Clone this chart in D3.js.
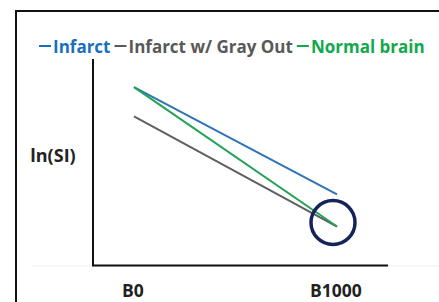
<!DOCTYPE html>
<html>
<head>
<meta charset="utf-8">
<script src="https://cdn.jsdelivr.net/npm/d3@7"></script>
<style>
  body { margin: 0; background: #fff; }
  text { font-family: "Open Sans", Lato, sans-serif; font-weight: 700; }
</style>
</head>
<body>
<div id="chart"></div>
<script>
// Categories on the x axis
const categories = ["B0", "B1000"];

// ln(SI) values (arbitrary units)
const infarct = [8.55, 3.4];
const infarctGray = [7.15, 1.85];
const normalBrain = [8.55, 1.85];

const seriesNames = ["Infarct", "Infarct w/ Gray Out", "Normal brain"];
const seriesColors = ["#2f74b5", "#5f5f5f", "#20a352"];
const legendColors = ["#1a6fc0", "#595959", "#12a84e"];

const width = 439, height = 302;

const svg = d3
  .select("#chart")
  .append("svg")
  .attr("width", width)
  .attr("height", height);

// Outer frame (cut off at right/bottom)
svg.append("rect")
  .attr("x", 16).attr("y", 11)
  .attr("width", 600).attr("height", 400)
  .attr("fill", "none")
  .attr("stroke", "#111")
  .attr("stroke-width", 2);

// faint baseline across the panel
svg.append("line")
  .attr("x1", 32).attr("x2", 439)
  .attr("y1", 266).attr("y2", 266)
  .attr("stroke", "#ececec").attr("stroke-width", 1);

// Scales
const x = d3.scalePoint().domain(categories).range([134, 337]);
const y = d3.scaleLinear().domain([0, 10]).range([265, 57]);

// Axes (plain lines, no ticks)
svg.append("line")
  .attr("x1", 93).attr("x2", 93)
  .attr("y1", 59).attr("y2", 266)
  .attr("stroke", "#111").attr("stroke-width", 2);
svg.append("line")
  .attr("x1", 92).attr("x2", 388)
  .attr("y1", 265.5).attr("y2", 265.5)
  .attr("stroke", "#111").attr("stroke-width", 2);

// X labels
svg.selectAll(".xl")
  .data(categories)
  .enter()
  .append("text")
  .attr("class", "xl")
  .attr("x", (d) => x(d) - 1)
  .attr("y", 297)
  .attr("text-anchor", "middle")
  .attr("font-size", 17.5)
  .attr("fill", "#222")
  .text((d) => d);

// Y label
svg.append("text")
  .attr("x", 53).attr("y", 162)
  .attr("text-anchor", "middle")
  .attr("font-size", 18)
  .attr("fill", "#222")
  .text("ln(SI)");

// Lines
const line = d3.line()
  .x((d, i) => x(categories[i]))
  .y((d) => y(d));

const series = [infarct, infarctGray, normalBrain];
svg.selectAll(".series")
  .data(series)
  .enter()
  .append("path")
  .attr("class", "series")
  .attr("d", line)
  .attr("fill", "none")
  .attr("stroke", (d, i) => seriesColors[i])
  .attr("stroke-width", 2);

// Highlight circle around the B1000 convergence
svg.append("circle")
  .attr("cx", x("B1000") - 4)
  .attr("cy", y(normalBrain[1]) - 4)
  .attr("r", 22)
  .attr("fill", "none")
  .attr("stroke", "#14245a")
  .attr("stroke-width", 3.5);

// Legend: short dash followed by coloured label
let lx = 39;
seriesNames.forEach((name, i) => {
  svg.append("line")
    .attr("x1", lx).attr("x2", lx + 12)
    .attr("y1", 46).attr("y2", 46)
    .attr("stroke", legendColors[i])
    .attr("stroke-width", 2);
  const t = svg.append("text")
    .attr("x", lx + 14).attr("y", 53)
    .attr("font-size", 17)
    .attr("fill", legendColors[i])
    .text(name);
  lx += 14 + t.node().getComputedTextLength() + 4;
});
</script>
</body>
</html>
